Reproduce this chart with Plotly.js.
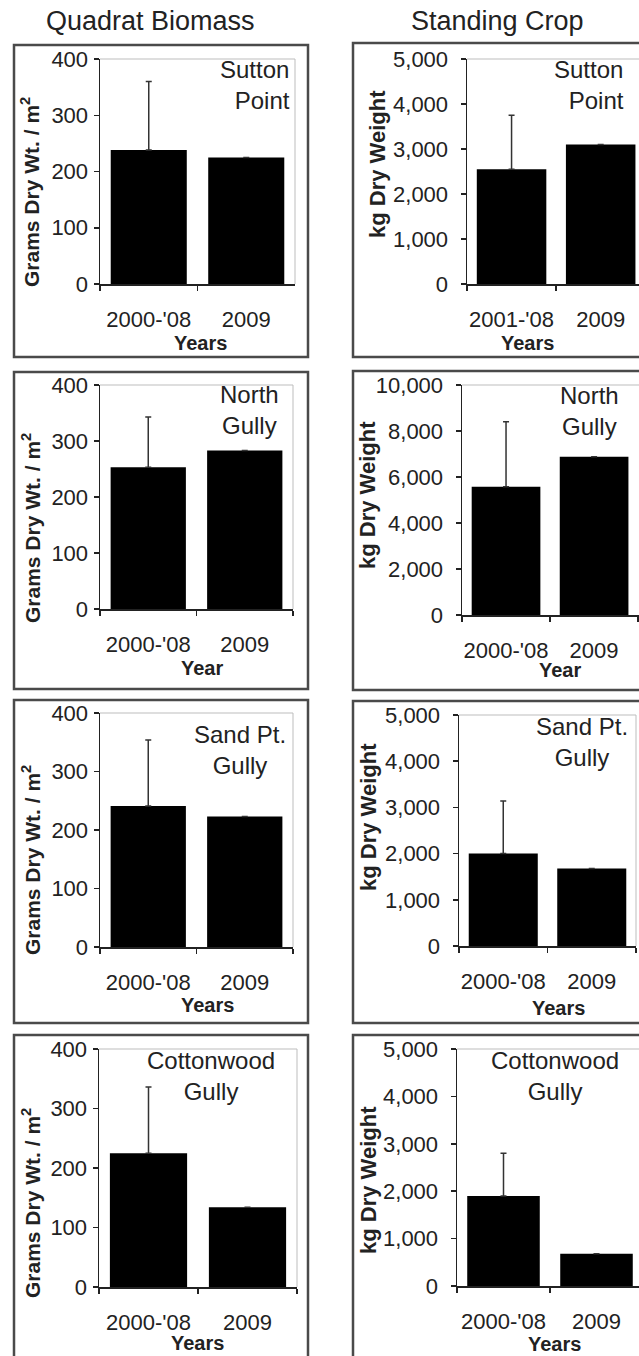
<!DOCTYPE html>
<html><head><meta charset="utf-8">
<script src="https://cdn.plot.ly/plotly-3.0.1.min.js"></script>
<style>html,body{margin:0;padding:0;background:#fff}#chart{width:639px;height:1356px}</style>
</head><body><div id="chart"></div>
<script>
// ---------------- data ----------------
const quadratYears = ["2000-'08", "2009"];
const cropYearsSutton = ["2001-'08", "2009"];
const cropYears = ["2000-'08", "2009"];
const siteNames = ["Sutton<br>Point", "North<br>Gully", "Sand Pt.<br>Gully", "Cottonwood<br>Gully"];
const xAxisTitles = ["Years", "Year", "Years", "Years"];
const columnTitles = ["Quadrat Biomass", "Standing Crop"];
const quadratAxisTitle = "Grams Dry Wt. / m<sup>2</sup>";
const cropAxisTitle = "kg Dry Weight";

// Quadrat biomass (g dry wt / m2): mean and upper error
const quadratSutton = [238, 225];
const quadratSuttonErr = [122, 0];
const quadratNorth = [253, 283];
const quadratNorthErr = [90, 0];
const quadratSand = [241, 223];
const quadratSandErr = [113, 0];
const quadratCotton = [225, 134];
const quadratCottonErr = [111, 0];

// Standing crop (kg dry weight): mean and upper error
const cropSutton = [2550, 3100];
const cropSuttonErr = [1200, 0];
const cropNorth = [5580, 6880];
const cropNorthErr = [2820, 0];
const cropSand = [2000, 1680];
const cropSandErr = [1140, 0];
const cropCotton = [1900, 680];
const cropCottonErr = [900, 0];

const quadratYMax = 400, quadratDtick = 100;
const cropYMax = [5000, 10000, 5000, 5000];
const cropDtick = [1000, 2000, 1000, 1000];

// ---------------- layout geometry (pixels) ----------------
const W = 639, H = 1356;
const FONT = "Liberation Sans, Arial, Helvetica, sans-serif";
const TXT = "#222";

const panels = [
  // left column: quadrat biomass
  {x: quadratYears, y: quadratSutton, e: quadratSuttonErr, ymax: quadratYMax, dt: quadratDtick, site: 0, col: 0,
   L: 100, R: 295, T: 59, B: 284, rEnd: 1.5, frameR: true,
   sx: 292, sy: 85, sa: 'right', xt: [200, 343], yt: [30, 192]},
  {x: quadratYears, y: quadratNorth, e: quadratNorthErr, ymax: quadratYMax, dt: quadratDtick, site: 1, col: 0,
   L: 100, R: 293, T: 385, B: 609, rEnd: 1.5, frameR: true,
   sx: 249, sy: 410, sa: 'center', xt: [202, 668], yt: [31, 528]},
  {x: quadratYears, y: quadratSand, e: quadratSandErr, ymax: quadratYMax, dt: quadratDtick, site: 2, col: 0,
   L: 100, R: 293, T: 713, B: 947, rEnd: 1.5, frameR: true,
   sx: 240, sy: 750, sa: 'center', xt: [207, 1005], yt: [31, 860]},
  {x: quadratYears, y: quadratCotton, e: quadratCottonErr, ymax: quadratYMax, dt: quadratDtick, site: 3, col: 0,
   L: 99, R: 297, T: 1049, B: 1287, rEnd: 1.5, frameR: true,
   sx: 211, sy: 1076, sa: 'center', xt: [198, 1343], yt: [31, 1203]},
  // right column: standing crop
  {x: cropYearsSutton, y: cropSutton, e: cropSuttonErr, ymax: cropYMax[0], dt: cropDtick[0], site: 0, col: 1,
   L: 467, R: 639, T: 59, B: 284, rEnd: 1.43, frameR: false,
   sx: 626, sy: 85, sa: 'right', xt: [527, 343], yt: [377, 164]},
  {x: cropYears, y: cropNorth, e: cropNorthErr, ymax: cropYMax[1], dt: cropDtick[1], site: 1, col: 1,
   L: 462, R: 639, T: 385, B: 615, rEnd: 1.51, frameR: false,
   sx: 589, sy: 411, sa: 'center', xt: [560, 670], yt: [368, 495]},
  {x: cropYears, y: cropSand, e: cropSandErr, ymax: cropYMax[2], dt: cropDtick[2], site: 2, col: 1,
   L: 459, R: 636, T: 715, B: 946, rEnd: 1.5, frameR: true,
   sx: 582, sy: 742, sa: 'center', xt: [558, 1008], yt: [368, 817]},
  {x: cropYears, y: cropCotton, e: cropCottonErr, ymax: cropYMax[3], dt: cropDtick[3], site: 3, col: 1,
   L: 457, R: 639, T: 1049, B: 1286, rEnd: 1.457, frameR: false,
   sx: 555, sy: 1076, sa: 'center', xt: [554, 1344], yt: [368, 1180]}
];

const boxes = [
  [14, 308, 45, 357], [14, 308, 372, 689], [14, 308, 700, 1023], [14, 308, 1035, 1400],
  [353, 680, 43, 357], [353, 680, 371, 690], [353, 680, 701, 1023], [353, 680, 1035, 1400]
];

const px = v => v / W;
const py = v => 1 - v / H;

const traces = [];
const layout = {
  width: W, height: H, autosize: false,
  margin: {l: 0, r: 0, t: 0, b: 0, pad: 0},
  paper_bgcolor: '#fff', plot_bgcolor: 'rgba(0,0,0,0)',
  showlegend: false, bargap: 0.22,
  font: {family: FONT, color: TXT},
  shapes: [], annotations: []
};

boxes.forEach(b => {
  layout.shapes.push({type: 'rect', xref: 'paper', yref: 'paper',
    x0: px(b[0]), x1: px(b[1]), y0: py(b[3]), y1: py(b[2]),
    line: {color: '#4a4a4a', width: 2.5}, fillcolor: 'rgba(0,0,0,0)'});
});

panels.forEach((p, i) => {
  const n = i + 1;
  const xs = n === 1 ? '' : String(n);
  traces.push({
    type: 'bar', x: p.x, y: p.y, xaxis: 'x' + xs, yaxis: 'y' + xs,
    marker: {color: '#000', line: {width: 0}},
    error_y: {type: 'data', symmetric: false, array: p.e, arrayminus: [0, 0],
      color: '#333', thickness: 1.5, width: 3},
    hoverinfo: 'skip'
  });
  layout['xaxis' + xs] = {
    domain: [px(p.L), px(p.R)], anchor: 'y' + xs, type: 'category',
    range: [-0.5, p.rEnd], showline: true, linecolor: '#222', linewidth: 1.5,
    ticks: 'outside', tickson: 'boundaries', ticklen: 5, tickwidth: 1.5, tickcolor: '#222',
    tickangle: 0,
    tickfont: {family: FONT, size: 22, color: TXT}, ticklabelstandoff: 15,
    showgrid: false, zeroline: false, fixedrange: true
  };
  layout['yaxis' + xs] = {
    domain: [py(p.B), py(p.T)], anchor: 'x' + xs,
    range: [0, p.ymax], tick0: 0, dtick: p.dt, tickformat: ',',
    showline: true, linecolor: '#222', linewidth: 1.5,
    ticks: 'outside', ticklen: 5, tickwidth: 1.5, tickcolor: '#222',
    tickfont: {family: FONT, size: 22, color: TXT},
    ticklabelstandoff: p.col === 0 ? 1 : 8,
    showgrid: false, zeroline: false, fixedrange: true
  };
  // light plot-area frame (top and right)
  layout.shapes.push({type: 'line', layer: 'below', xref: 'x' + xs + ' domain', yref: 'y' + xs + ' domain',
    x0: 0, x1: 1, y0: 1, y1: 1, line: {color: '#bdbdbd', width: 1}});
  if (p.frameR) {
    layout.shapes.push({type: 'line', layer: 'below', xref: 'x' + xs + ' domain', yref: 'y' + xs + ' domain',
      x0: 1, x1: 1, y0: 0, y1: 1, line: {color: '#bdbdbd', width: 1}});
  }
  // site label
  layout.annotations.push({xref: 'paper', yref: 'paper', x: px(p.sx), y: py(p.sy),
    xanchor: p.sa, yanchor: 'middle', align: p.sa, showarrow: false,
    text: siteNames[p.site], font: {family: FONT, size: 24, color: TXT}});
  // x axis title
  layout.annotations.push({xref: 'paper', yref: 'paper', x: px(p.xt[0]), y: py(p.xt[1]),
    xanchor: 'center', yanchor: 'middle', showarrow: false,
    text: '<b>' + xAxisTitles[p.site] + '</b>', font: {family: FONT, size: 20, color: TXT}});
  // y axis title
  layout.annotations.push({xref: 'paper', yref: 'paper', x: px(p.yt[0]), y: py(p.yt[1]),
    xanchor: 'center', yanchor: 'middle', textangle: -90, showarrow: false,
    text: '<b>' + (p.col === 0 ? quadratAxisTitle : cropAxisTitle) + '</b>',
    font: {family: FONT, size: p.col === 0 ? 21 : 22, color: TXT}});
});

// column titles
layout.annotations.push({xref: 'paper', yref: 'paper', x: px(150), y: py(21), xanchor: 'center', yanchor: 'middle',
  showarrow: false, text: columnTitles[0], font: {family: FONT, size: 27, color: TXT}});
layout.annotations.push({xref: 'paper', yref: 'paper', x: px(497), y: py(21), xanchor: 'center', yanchor: 'middle',
  showarrow: false, text: columnTitles[1], font: {family: FONT, size: 27, color: TXT}});

Plotly.newPlot('chart', traces, layout, {staticPlot: true, displayModeBar: false});
</script>
</body></html>
